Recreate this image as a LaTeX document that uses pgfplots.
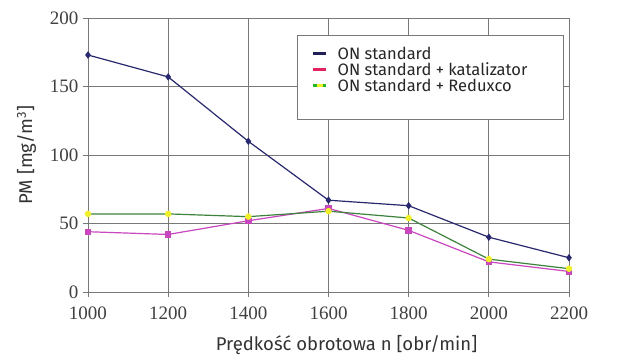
\documentclass[border=0pt]{standalone}
\usepackage{pgfplots}
\pgfplotsset{compat=1.18}
\usepackage{fontspec}
\setmainfont{Liberation Serif}
\newfontfamily\labelfont{Fira Sans}
\definecolor{navyline}{RGB}{40,40,110}
\definecolor{magline}{RGB}{200,70,190}
\definecolor{greenline}{RGB}{60,130,60}
\definecolor{yelmark}{RGB}{240,240,40}
\definecolor{gridc}{RGB}{120,120,120}
\begin{document}
\begin{tikzpicture}
\useasboundingbox (-88pt,-65pt) rectangle (536pt,292pt);
\begin{axis}[
  scale only axis,
  width=481pt, height=274pt,
  xmin=1000, xmax=2200, ymin=0, ymax=200,
  xtick={1000,1200,...,2200}, ytick={0,50,...,200},
  grid=major,
  major grid style={gridc, line width=0.8pt},
  axis line style={gridc, line width=0.8pt},
  tick style={gridc, line width=0.8pt},
  tick align=outside,
  major tick length=5pt,
  axis x line*=bottom, axis y line*=left,
  /pgf/number format/assume math mode=true,
  /pgf/number format/1000 sep={},
  ticklabel style={font=\fontsize{19}{21}\selectfont, text=black!75},
  xticklabel style={yshift=-6pt},
  yticklabel style={xshift=-1pt},
  xlabel={Prędkość obrotowa n [obr/min]},
  ylabel={PM [mg/m\textsuperscript{3}]},
  label style={font=\labelfont\fontsize{18.5}{20}\selectfont, text=black!80},
  xlabel style={yshift=-9pt, xshift=18pt},
  ylabel style={yshift=7pt},
  clip=false,
  legend style={at={(0.435,0.938)}, anchor=north west, draw=gridc, line width=0.8pt,
    font=\labelfont\fontsize{16.5}{18}\selectfont, text=black!85,
    inner xsep=8pt, inner ysep=10pt, row sep=0pt,
    nodes={text depth=0pt, text height=12pt}},
  legend cell align=left,
]
\addlegendimage{legend image code/.code={\path[draw=none,fill=none] (0pt,-1pt) rectangle (30pt,1pt); \draw[navyline!80!black, line width=3pt] (7pt,0pt) -- (20pt,0pt);}}
\addlegendentry{ON standard}
\addlegendimage{legend image code/.code={\path[draw=none,fill=none] (0pt,-1pt) rectangle (30pt,1pt); \draw[magline!50!red, line width=3pt] (7pt,0pt) -- (20pt,0pt);}}
\addlegendentry{ON standard + katalizator\rule{26pt}{0pt}}
\addlegendimage{legend image code/.code={\path[draw=none,fill=none] (0pt,-1pt) rectangle (30pt,1pt); \draw[greenline!60!green, line width=3pt] (7pt,0pt) -- (20pt,0pt); \draw[yelmark, line width=3pt] (11pt,0pt) -- (17pt,0pt);}}
\addlegendentry{ON standard + Reduxco}
\addlegendimage{legend image code/.code={\path[draw=none,fill=none] (0pt,-1pt) rectangle (30pt,1pt);}}
\addlegendentry{\phantom{X}}
\addplot[forget plot, navyline, line width=1.2pt, mark=diamond*, mark size=2.8pt, mark options={fill=navyline}]
  coordinates {(1000,173) (1200,157) (1400,110) (1600,67) (1800,63) (2000,40) (2200,25)};
\addplot[forget plot, magline, line width=1.2pt, mark=square*, mark size=2.6pt, mark options={fill=magline}]
  coordinates {(1000,44) (1200,42) (1400,52) (1600,61) (1800,45) (2000,22) (2200,15)};
\addplot[forget plot, greenline, line width=1.2pt, mark=*, mark size=2.6pt, mark options={fill=yelmark, draw=yelmark}]
  coordinates {(1000,57) (1200,57) (1400,55) (1600,59) (1800,54) (2000,24) (2200,17)};
\draw[gridc, line width=0.8pt] (axis cs:1000,200) -- (axis cs:2200,200) -- (axis cs:2200,0);
\end{axis}
\end{tikzpicture}
\end{document}
